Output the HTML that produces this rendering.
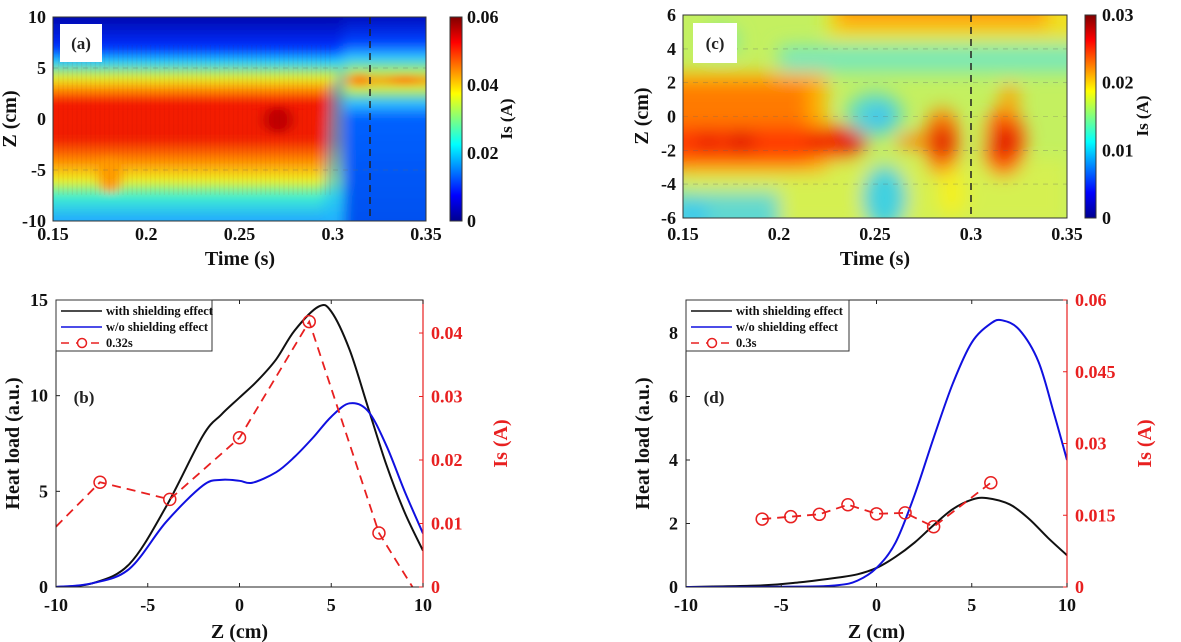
<!DOCTYPE html>
<html><head><meta charset="utf-8"><style>
body{margin:0;background:#fff;}
svg{display:block;font-family:"Liberation Serif",serif;font-weight:bold;}
</style></head><body>
<svg id="s" width="1181" height="642" viewBox="0 0 1181 642" xmlns="http://www.w3.org/2000/svg">
<defs>
<filter id="bl" x="-20%" y="-20%" width="140%" height="140%"><feGaussianBlur stdDeviation="6 4"/></filter>
<filter id="bl3" x="-30%" y="-30%" width="160%" height="160%"><feGaussianBlur stdDeviation="9"/></filter>
<clipPath id="ca"><rect x="53" y="17" width="373" height="204"/></clipPath>
<clipPath id="cc"><rect x="683" y="15" width="384" height="203"/></clipPath>
<clipPath id="cb"><rect x="56" y="300" width="367" height="287"/></clipPath>
<clipPath id="cd"><rect x="686" y="300" width="381" height="287"/></clipPath>
<linearGradient id="ga" gradientUnits="userSpaceOnUse" x1="0" y1="17" x2="0" y2="221">
<stop offset="0" stop-color="#0008b0"/><stop offset="0.15" stop-color="#0030ff"/>
<stop offset="0.22" stop-color="#20d0ff"/><stop offset="0.3" stop-color="#e8f020"/>
<stop offset="0.36" stop-color="#ff8a00"/><stop offset="0.42" stop-color="#f41800"/>
<stop offset="0.6" stop-color="#f22000"/><stop offset="0.7" stop-color="#ff8800"/>
<stop offset="0.8" stop-color="#f0f020"/><stop offset="0.88" stop-color="#40f0d0"/>
<stop offset="1" stop-color="#20a8ff"/></linearGradient>
<linearGradient id="ga2" gradientUnits="userSpaceOnUse" x1="0" y1="17" x2="0" y2="221">
<stop offset="0" stop-color="#0010c0"/><stop offset="0.12" stop-color="#0040ff"/>
<stop offset="0.2" stop-color="#30c8ff"/><stop offset="0.27" stop-color="#b0f060"/>
<stop offset="0.31" stop-color="#ff9a00"/><stop offset="0.35" stop-color="#d0f040"/>
<stop offset="0.42" stop-color="#30c0ff"/><stop offset="0.5" stop-color="#0060ff"/>
<stop offset="1" stop-color="#0050f0"/></linearGradient>
<linearGradient id="cm" x1="0" y1="1" x2="0" y2="0">
<stop offset="0" stop-color="#00008f"/><stop offset="0.125" stop-color="#0000ff"/>
<stop offset="0.375" stop-color="#00ffff"/><stop offset="0.625" stop-color="#ffff00"/>
<stop offset="0.875" stop-color="#ff0000"/><stop offset="1" stop-color="#800000"/></linearGradient>
</defs>
<g id="g"></g>
</svg>
<script>
var g=document.getElementById('g'),h='';
function T(x,y,t,o){o=o||{};h+='<text x="'+x+'" y="'+y+'" font-size="'+(o.s||17)+'" fill="'+(o.f||'#111')+'" text-anchor="'+(o.a||'middle')+'"'+(o.r?' transform="rotate(-90 '+x+' '+y+')"':'')+'>'+t+'</text>';}
// ---------- panel a
h+='<g clip-path="url(#ca)"><rect x="53" y="17" width="373" height="204" fill="#0040f0"/><g filter="url(#bl)"><rect x="30" y="0" width="308" height="240" fill="url(#ga)"/><polygon points="333,0 345,0 345,240 325,240 333,120" fill="url(#ga)"/><rect x="343" y="0" width="100" height="240" fill="url(#ga2)"/>';
h+='<polygon points="330,90 345,60 345,240 322,240" fill="#20b8ff" opacity="0.6"/>';
h+='<ellipse cx="110" cy="175" rx="12" ry="18" fill="#ff9a00"/><ellipse cx="278" cy="120" rx="15" ry="14" fill="#c00000"/><ellipse cx="360" cy="80" rx="6" ry="7" fill="#ff7000"/><ellipse cx="405" cy="80" rx="16" ry="4" fill="#ff7a00"/></g>';
for(var i=0;i<60;i++){var x=58+i*4.6;h+='<rect x="'+x+'" y="45" width="1.2" height="150" fill="#800" opacity="0.06"/>';}
h+='</g>';
h+='<line x1="370" y1="17" x2="370" y2="221" stroke="#222" stroke-width="1.5" stroke-dasharray="7,5"/>';
[68,170].forEach(function(y){h+='<line x1="53" y1="'+y+'" x2="426" y2="'+y+'" stroke="#666" stroke-width="0.6" stroke-dasharray="5,5" opacity="0.6"/>';});
h+='<rect x="53" y="17" width="373" height="204" fill="none" stroke="#333"/>';
h+='<rect x="60" y="24" width="42" height="38" fill="#fff"/>';T(81,49,'(a)',{s:17,f:'#222'});
h+='<rect x="450" y="17" width="12" height="204" fill="url(#cm)" stroke="#333"/>';
[[0,'0'],[0.02,'0.02'],[0.04,'0.04'],[0.06,'0.06']].forEach(function(v){var y=221-v[0]/0.06*204;T(467,y+6,v[1],{a:'start',s:18});});
T(512,119,'Is (A)',{r:1,s:17});
[0.15,0.2,0.25,0.3,0.35].forEach(function(t){var x=53+(t-0.15)/0.2*373;T(x,240,String(t),{s:18});});
[10,5,0,-5,-10].forEach(function(z){T(46,119-z*10.2+6,String(z),{a:'end',s:18});});
T(240,265,'Time (s)',{s:20});T(16,119,'Z (cm)',{r:1,s:20});
// ---------- panel c
function cx(t){return 683+(t-0.15)/0.2*384;} function cy(z){return 116.5-z*16.9;}
h+='<g clip-path="url(#cc)"><rect x="683" y="15" width="384" height="203" fill="#c4f060"/><g filter="url(#bl3)">';
function E(t,z,rx,ry,c,o){h+='<ellipse cx="'+cx(t)+'" cy="'+cy(z)+'" rx="'+rx+'" ry="'+ry+'" fill="'+c+'" opacity="'+(o||1)+'"/>';}
function R(t1,t2,z1,z2,c,o){h+='<rect x="'+cx(t1)+'" y="'+cy(z1)+'" width="'+(cx(t2)-cx(t1))+'" height="'+(cy(z2)-cy(z1))+'" fill="'+c+'" opacity="'+(o||1)+'"/>';}
R(0.15,0.35,-2.5,-6.5,'#e8f040',0.5);
R(0.225,0.36,7.5,4.6,'#f0e020');R(0.23,0.34,7.5,5.3,'#ffa010');
R(0.2,0.36,4.2,2.6,'#7ae8b8');
R(0.13,0.225,2.6,-3.3,'#ffb000');R(0.13,0.215,2,-3,'#ff7a00');
R(0.13,0.24,-0.6,-2.5,'#ff3a00');E(0.18,-1.5,14,9,'#d80000');E(0.163,-1.5,10,9,'#e00000');E(0.22,-1.5,9,9,'#e00000');E(0.237,-1.5,18,12,'#e00800');
E(0.25,0.1,28,22,'#58d8d0');E(0.252,0,10,7,'#20b0ff');E(0.255,-4.8,22,32,'#40d0e0');
R(0.13,0.2,-4.5,-7.5,'#60d8d0');E(0.155,-5.8,16,12,'#30c8f0');
E(0.285,-1.5,18,34,'#ff8000');E(0.285,-1.5,12,18,'#e00000');E(0.27,-1.5,18,7,'#ff8000');
E(0.317,-1.5,22,34,'#ff6000');E(0.317,-1.5,14,16,'#e00000');E(0.32,1,9,16,'#ffa000');E(0.29,-4.5,14,24,'#f4f020');E(0.305,-1,5,20,'#c8f050');E(0.17,4.5,18,14,'#80e8a0');
h+='</g></g>';
h+='<line x1="'+cx(0.3)+'" y1="15" x2="'+cx(0.3)+'" y2="218" stroke="#222" stroke-width="1.5" stroke-dasharray="7,5"/>';
[4,2,0,-2,-4].forEach(function(z){h+='<line x1="683" y1="'+cy(z)+'" x2="1067" y2="'+cy(z)+'" stroke="#666" stroke-width="0.6" stroke-dasharray="5,5" opacity="0.5"/>';});
h+='<rect x="683" y="15" width="384" height="203" fill="none" stroke="#333"/>';
h+='<rect x="693" y="23" width="44" height="40" fill="#fff"/>';T(715,49,'(c)',{s:17,f:'#222'});
h+='<rect x="1085" y="15" width="11" height="203" fill="url(#cm)" stroke="#333"/>';
[[0,'0'],[0.01,'0.01'],[0.02,'0.02'],[0.03,'0.03']].forEach(function(v){var y=218-v[0]/0.03*203;T(1102,y+6,v[1],{a:'start',s:18});});
T(1148,116,'Is (A)',{r:1,s:17});
[0.15,0.2,0.25,0.3,0.35].forEach(function(t){T(cx(t),240,String(t),{s:18});});
[6,4,2,0,-2,-4,-6].forEach(function(z){T(676,cy(z)+6,String(z),{a:'end',s:18});});
T(875,265,'Time (s)',{s:20});T(648,116,'Z (cm)',{r:1,s:20});
// ---------- spline
function sp(pts){var d='M'+pts[0][0]+','+pts[0][1];for(var i=0;i<pts.length-1;i++){var p0=pts[i-1]||pts[i],p1=pts[i],p2=pts[i+1],p3=pts[i+2]||p2;
d+=' C'+(p1[0]+(p2[0]-p0[0])/6)+','+(p1[1]+(p2[1]-p0[1])/6)+' '+(p2[0]-(p3[0]-p1[0])/6)+','+(p2[1]-(p3[1]-p1[1])/6)+' '+p2[0]+','+p2[1];}return d;}
function panel(X0,X1,Y0,Y1,lmax,rmax,black,blue,red,rt,lt,label,leg,clip){
 var W=X1-X0,H=Y1-Y0;function px(z){return X0+(z+10)/20*W;}function ly(v){return Y1-v/lmax*H;}function ry(v){return Y1-v/rmax*H;}
 h+='<g clip-path="url('+clip+')">';
 h+='<path d="'+sp(black.map(function(p){return[px(p[0]),ly(p[1])];}))+'" fill="none" stroke="#111" stroke-width="2"/>';
 h+='<path d="'+sp(blue.map(function(p){return[px(p[0]),ly(p[1])];}))+'" fill="none" stroke="#1010e0" stroke-width="2"/>';
 h+='<polyline points="'+red.map(function(p){return px(p[0])+','+ry(p[1]);}).join(' ')+'" fill="none" stroke="#e82020" stroke-width="1.8" stroke-dasharray="9,6"/>';
 red.forEach(function(p){if(p[2])h+='<circle cx="'+px(p[0])+'" cy="'+ry(p[1])+'" r="6" fill="none" stroke="#e82020" stroke-width="1.5"/>';});
 h+='</g>';
 h+='<rect x="'+X0+'" y="'+Y0+'" width="'+W+'" height="'+H+'" fill="none" stroke="#222"/>';
 h+='<line x1="'+X1+'" y1="'+Y0+'" x2="'+X1+'" y2="'+Y1+'" stroke="#e82020" stroke-width="1.2"/>';
 [-10,-5,0,5,10].forEach(function(z){T(px(z),Y1+24,String(z),{s:18});h+='<line x1="'+px(z)+'" y1="'+Y1+'" x2="'+px(z)+'" y2="'+(Y1-4)+'" stroke="#222"/><line x1="'+px(z)+'" y1="'+Y0+'" x2="'+px(z)+'" y2="'+(Y0+4)+'" stroke="#222"/>';});
 lt.forEach(function(v){T(X0-8,ly(v)+6,String(v),{a:'end',s:18});h+='<line x1="'+X0+'" y1="'+ly(v)+'" x2="'+(X0+4)+'" y2="'+ly(v)+'" stroke="#222"/>';});
 rt.forEach(function(v){T(X1+8,ry(v[0])+6,v[1],{a:'start',f:'#e82020',s:18});h+='<line x1="'+X1+'" y1="'+ry(v[0])+'" x2="'+(X1-4)+'" y2="'+ry(v[0])+'" stroke="#e82020"/>';});
 T((X0+X1)/2,Y1+51,'Z (cm)',{s:20});T(X0-37,(Y0+Y1)/2,'Heat load (a.u.)',{r:1,s:20});
 T(X1+84,(Y0+Y1)/2,'Is (A)',{r:1,s:20,f:'#e82020'});
 T(X0+28,Y0+103,label,{s:17,f:'#222'});
 var lw=leg[1];h+='<rect x="'+X0+'" y="'+Y0+'" width="'+lw+'" height="51" fill="#fff" stroke="#333"/>';
 h+='<line x1="'+(X0+5)+'" y1="'+(Y0+11)+'" x2="'+(X0+46)+'" y2="'+(Y0+11)+'" stroke="#111" stroke-width="1.5"/>';
 h+='<line x1="'+(X0+5)+'" y1="'+(Y0+27)+'" x2="'+(X0+46)+'" y2="'+(Y0+27)+'" stroke="#1010e0" stroke-width="1.5"/>';
 h+='<line x1="'+(X0+5)+'" y1="'+(Y0+43)+'" x2="'+(X0+46)+'" y2="'+(Y0+43)+'" stroke="#e82020" stroke-width="1.5" stroke-dasharray="8,7"/><circle cx="'+(X0+26)+'" cy="'+(Y0+43)+'" r="4.5" fill="#fff" stroke="#e82020" stroke-width="1.5"/>';
 T(X0+50,Y0+15,'with shielding effect',{a:'start',s:12.5});T(X0+50,Y0+31,'w/o shielding effect',{a:'start',s:12.5});T(X0+50,Y0+47,leg[0],{a:'start',s:12.5});
}
panel(56,423,300,587,15,0.0452,
 [[-10,0],[-8,0.2],[-6,1.2],[-4,4.2],[-2,7.9],[-1,9],[0,9.9],[1,10.8],[2,11.9],[3,13.4],[4.3,14.65],[5,14.4],[6,12.4],[7,9.4],[8,6.4],[9,3.9],[10,1.9]],
 [[-10,0],[-8,0.2],[-6,0.95],[-4,3.4],[-2,5.3],[-1,5.6],[0,5.55],[0.7,5.45],[2,6],[3,6.8],[4,7.8],[5,8.9],[6,9.6],[7,9.2],[8,7.4],[9,5],[10,2.8]],
 [[-10,0.0095,0],[-7.6,0.0165,1],[-3.8,0.0138,1],[0,0.0235,1],[3.8,0.0418,1],[7.6,0.0085,1],[9.6,-0.0008,0]],
 [[0,'0'],[0.01,'0.01'],[0.02,'0.02'],[0.03,'0.03'],[0.04,'0.04']],[0,5,10,15],'(b)',['0.32s',156],'#cb');
panel(686,1067,300,587,9.04,0.06,
 [[-10,0],[-6,0.05],[-4,0.15],[-2,0.3],[-1,0.4],[0,0.6],[1,0.95],[2,1.4],[3,1.95],[4,2.45],[5,2.75],[5.8,2.8],[7,2.6],[8,2.15],[9,1.55],[10,1]],
 [[-10,0],[-4,0.01],[-2,0.06],[-1,0.2],[0,0.6],[1,1.4],[2,2.9],[3,4.7],[4,6.4],[5,7.7],[6,8.3],[6.6,8.4],[7.5,8.1],[8.5,7.1],[9.3,5.5],[10,4]],
 [[-6,0.0142,1],[-4.5,0.0147,1],[-3,0.0152,1],[-1.5,0.0172,1],[0,0.0153,1],[1.5,0.0155,1],[3,0.0126,1],[6,0.0218,1]],
 [[0,'0'],[0.015,'0.015'],[0.03,'0.03'],[0.045,'0.045'],[0.06,'0.06']],[0,2,4,6,8],'(d)',['0.3s',163],'#cd');
g.innerHTML=h;
</script>
</body></html>
